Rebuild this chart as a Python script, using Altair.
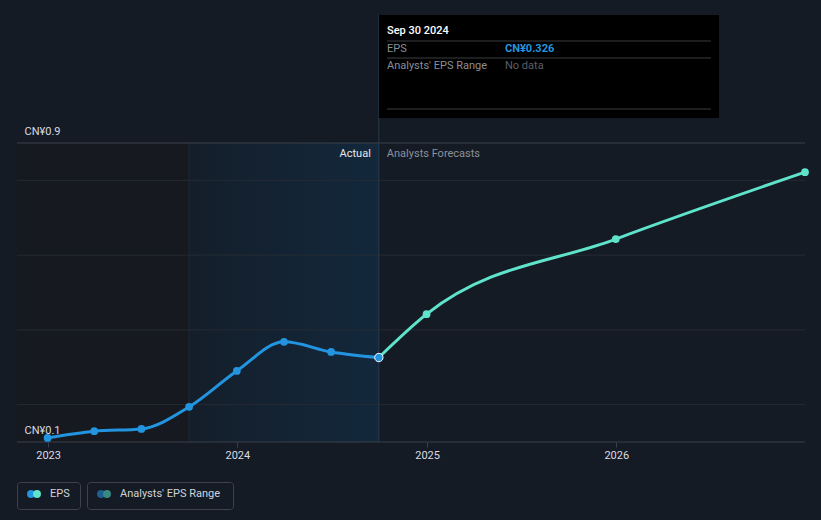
import altair as alt
import pandas as pd

# ---- data ----
actual_dates = ["2022-12-31", "2023-03-31", "2023-06-30", "2023-09-30",
                "2023-12-31", "2024-03-31", "2024-06-30", "2024-09-30"]
actual_eps = [0.111, 0.129, 0.135, 0.194, 0.290, 0.368, 0.341, 0.326]

forecast_dates = ["2024-09-30", "2024-12-31", "2025-12-31", "2026-12-31"]
forecast_eps = [0.326, 0.442, 0.643, 0.822]

grid_values = [0.2, 0.4, 0.6, 0.8]
edge_values = [0.1, 0.9]
year_ticks = [2023, 2024, 2025, 2026]

x_domain = ["2022-11-02", "2026-12-31"]
past_start, highlight_start, today = "2022-11-02", "2023-09-30", "2024-09-30"

W, H = 788, 299
FONT = "Roboto"
BLUE = "#2394df"
TEAL = "#5fe3cb"
BG = "#151b25"

actual_df = pd.DataFrame({"date": actual_dates, "eps": actual_eps})
forecast_df = pd.DataFrame({"date": forecast_dates, "eps": forecast_eps})
grid_df = pd.DataFrame({"v": grid_values})
edge_df = pd.DataFrame({"v": edge_values})

xs = alt.Scale(domain=x_domain)
ys = alt.Scale(domain=[0.1, 0.9], nice=False, zero=False)

X = alt.X("date:T", scale=xs, title=None,
          axis=alt.Axis(values=[alt.DateTime(year=y, month=1, date=1) for y in year_ticks],
                        format="%Y", grid=False, domain=False, ticks=True,
                        tickColor="#3b404a", tickSize=5, labelColor="#d9dce1",
                        labelFontSize=11, labelPadding=2, labelFont=FONT, zindex=1))
Y = alt.Y("eps:Q", scale=ys, title=None,
          axis=alt.Axis(values=edge_values, grid=False, domain=False, ticks=False,
                        labelAlign="left", labelBaseline="alphabetic",
                        labelPadding=-7, labelOffset=-9, labelColor="#d9dce1",
                        labelFontSize=11, labelFont=FONT, zindex=1,
                        labelExpr="'CN¥' + datum.value"))

regions = pd.DataFrame({"start": [past_start, highlight_start],
                        "end": [highlight_start, today],
                        "kind": ["past", "hl"]})

past_rect = alt.Chart(regions[regions.kind == "past"]).mark_rect(color="#16191f").encode(
    x=alt.X("start:T", scale=xs), x2="end:T", y=alt.value(0), y2=alt.value(H))

hl_rect = alt.Chart(regions[regions.kind == "hl"]).mark_rect(
    color=alt.Gradient(gradient="linear", x1=0, x2=1, y1=0, y2=0,
                       stops=[alt.GradientStop(color="#141e2a", offset=0),
                              alt.GradientStop(color="#13283c", offset=1)])).encode(
    x=alt.X("start:T", scale=xs), x2="end:T", y=alt.value(0), y2=alt.value(H))

hl_edge = alt.Chart(regions[regions.kind == "hl"]).mark_rule(color="#1f2b39", strokeWidth=1).encode(
    x=alt.X("start:T", scale=xs), y=alt.value(0), y2=alt.value(H))

grid = alt.Chart(grid_df).mark_rule(color="#252b34", strokeWidth=1).encode(
    y=alt.Y("v:Q", scale=ys), x=alt.value(0), x2=alt.value(W))

edges = alt.Chart(edge_df).mark_rule(color="#3b404a", strokeWidth=1).encode(
    y=alt.Y("v:Q", scale=ys), x=alt.value(0), x2=alt.value(W))

today_df = pd.DataFrame({"date": [today]})
today_rule = alt.Chart(today_df).mark_rule(color="#263a4d", strokeWidth=1).encode(
    x=alt.X("date:T", scale=xs), y=alt.value(-128), y2=alt.value(H))

actual_line = alt.Chart(actual_df).mark_line(color=BLUE, strokeWidth=3, interpolate="monotone").encode(x=X, y=Y)
actual_pts = alt.Chart(actual_df.iloc[:-1]).mark_circle(color=BLUE, size=60, opacity=1).encode(x=X, y=Y)

fc_line = alt.Chart(forecast_df).mark_line(color=TEAL, strokeWidth=3, interpolate="monotone").encode(x=X, y=Y)
fc_pts = alt.Chart(forecast_df.iloc[1:]).mark_circle(color=TEAL, size=60, opacity=1).encode(x=X, y=Y)

hl_pt = alt.Chart(actual_df.iloc[-1:]).mark_point(filled=True, fill=BLUE, stroke="white",
                                                  strokeWidth=1, size=70, opacity=1).encode(x=X, y=Y)

lbl_actual = alt.Chart(today_df).mark_text(text="Actual", align="right", dx=-8, baseline="middle",
                                           color="#e6e8eb", fontSize=11, font=FONT).encode(
    x=alt.X("date:T", scale=xs), y=alt.value(11))
lbl_fc = alt.Chart(today_df).mark_text(text="Analysts Forecasts", align="left", dx=8, baseline="middle",
                                       color="#8c9098", fontSize=11, font=FONT).encode(
    x=alt.X("date:T", scale=xs), y=alt.value(11))

# ---- tooltip box ----
tip_box = alt.Chart(today_df).mark_rect(color="#000000").encode(
    x=alt.value(362), x2=alt.value(702), y=alt.value(-128), y2=alt.value(-25))
tip_lines = alt.layer(*[
    alt.Chart(today_df).mark_rule(color="#3a3c40", strokeWidth=1).encode(
        x=alt.value(370), x2=alt.value(694), y=alt.value(yy))
    for yy in (-102, -85, -34)])


def txt(t, x, y, color, weight="normal"):
    return alt.Chart(today_df).mark_text(text=t, align="left", baseline="middle", color=color,
                                         fontSize=11, font=FONT, fontWeight=weight).encode(
        x=alt.value(x), y=alt.value(y))


tip_texts = alt.layer(
    txt("Sep 30 2024", 370, -112, "#ffffff", 500),
    txt("EPS", 370, -94, "#8a8e96"),
    txt("CN¥0.326", 488, -94, BLUE, "bold"),
    txt("Analysts' EPS Range", 370, -77, "#8a8e96"),
    txt("No data", 488, -77, "#5b5f66"),
)

# ---- legend ----
leg_boxes = alt.layer(*[
    alt.Chart(today_df).mark_rect(fill=BG, stroke="#3d424b", strokeWidth=1, cornerRadius=3).encode(
        x=alt.value(a), x2=alt.value(b), y=alt.value(339.5), y2=alt.value(366.5))
    for a, b in ((0.5, 63.5), (70.5, 216.5))])


def dot(x, color):
    return alt.Chart(today_df).mark_circle(color=color, size=62, opacity=1).encode(
        x=alt.value(x), y=alt.value(351))


leg_items = alt.layer(
    dot(14, BLUE), dot(20, TEAL),
    dot(84, "#1e5f92"), dot(90, "#3a8a84"),
    txt("EPS", 33, 351, "#d0d3d8"),
    txt("Analysts' EPS Range", 103, 351, "#d0d3d8"),
)

chart = alt.layer(
    past_rect, hl_rect, hl_edge, grid, edges, today_rule,
    actual_line, fc_line, actual_pts, fc_pts, hl_pt,
    lbl_actual, lbl_fc, tip_box, tip_lines, tip_texts, leg_boxes, leg_items,
).properties(
    width=W, height=H,
    autosize=alt.AutoSizeParams(type="none"),
    padding={"left": 9, "top": 135, "right": 8, "bottom": 68},
    background=BG,
).configure_view(stroke=None)

chart.save("out.html", embed_options={
    "renderer": "svg", "actions": False,
    "defaultStyle": "html, body { background: #151b25; overflow: hidden; } #vis svg { flex-shrink: 0; }"})
